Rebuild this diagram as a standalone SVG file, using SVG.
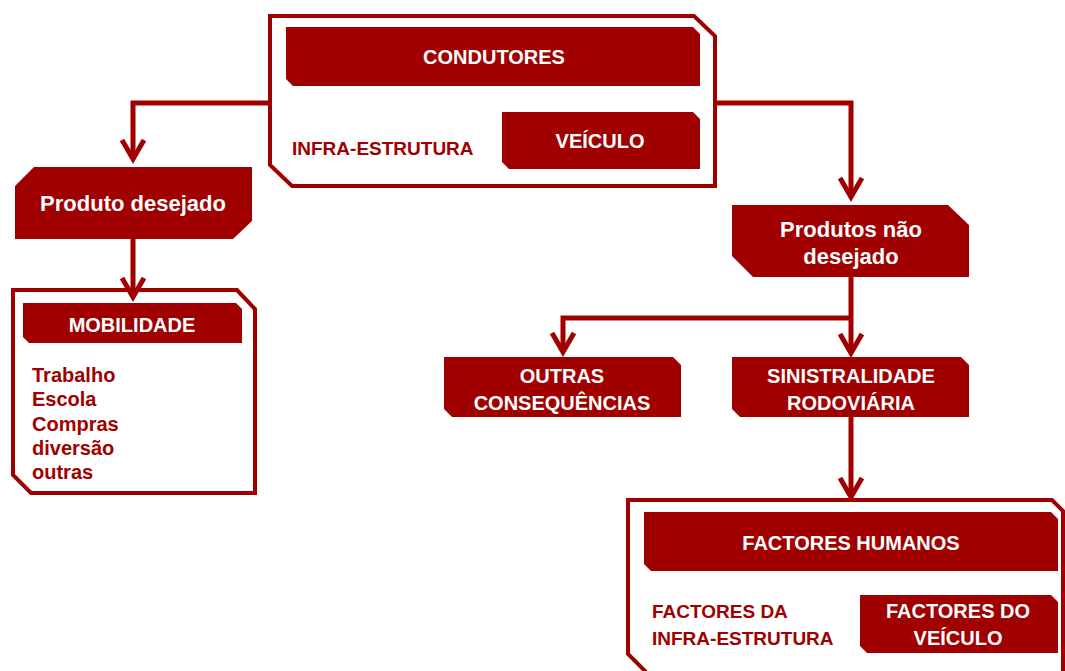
<svg xmlns="http://www.w3.org/2000/svg" width="1065" height="671" viewBox="0 0 1065 671">
  <style>
    .frame { fill: #ffffff; stroke: #A00000; stroke-width: 4; stroke-linejoin: miter; }
    .band { fill: #A00000; stroke: none; }
    .wt { fill: #ffffff; font-family: "Liberation Sans", Arial, sans-serif; font-weight: bold; text-anchor: middle; }
    .rt { fill: #A00000; font-family: "Liberation Sans", Arial, sans-serif; font-weight: bold; }
    .conn { fill: none; stroke: #A00000; stroke-width: 5; stroke-linejoin: miter; stroke-linecap: butt; }
  </style>
  <defs>
    <marker id="chev" markerUnits="userSpaceOnUse" orient="auto" refX="0" refY="0" markerWidth="40" markerHeight="40" viewBox="-30 -20 40 40" overflow="visible">
      <path d="M -19,-11 L 0,0 L -19,11" fill="none" stroke="#A00000" stroke-width="5" stroke-linejoin="miter"/>
    </marker>
  </defs>
  <rect width="1065" height="671" fill="#ffffff"/>

  <g id="node-sistema">
    <polygon class="frame" points="270,16 694,16 715,36 715,186 292,186 270,165"/>
    <g id="node-condutores">
      <polygon class="band" points="286,27 693,27 700,34 700,86 293,86 286,79"/>
      <text class="wt" x="494" y="64" font-size="20">CONDUTORES</text>
    </g>
    <g id="node-infra">
      <text class="rt" x="292" y="155" font-size="19">INFRA-ESTRUTURA</text>
    </g>
    <g id="node-veiculo">
      <polygon class="band" points="502,112 693,112 700,119 700,169 509,169 502,162"/>
      <text class="wt" x="600" y="148" font-size="20">VEÍCULO</text>
    </g>
  </g>

  <g id="node-produto-desejado">
    <polygon class="band" points="34,167 252,167 252,221 233,239 15,239 15,186"/>
    <text class="wt" x="133" y="211" font-size="22">Produto desejado</text>
  </g>

  <g id="node-mobilidade">
    <polygon class="frame" points="13,290 237,290 255,309 255,493 31,493 13,475"/>
    <polygon class="band" points="23,303 236,303 242,309 242,343 29,343 23,337"/>
    <text class="wt" x="132" y="332" font-size="20">MOBILIDADE</text>
    <text class="rt" x="32" y="382" font-size="20">Trabalho</text>
    <text class="rt" x="32" y="406" font-size="20">Escola</text>
    <text class="rt" x="32" y="431" font-size="20">Compras</text>
    <text class="rt" x="32" y="455" font-size="20">diversão</text>
    <text class="rt" x="32" y="479" font-size="20">outras</text>
  </g>

  <g id="node-produtos-nao-desejado">
    <polygon class="band" points="732,205 948,205 969,225 969,277 753,277 732,256"/>
    <text class="wt" x="851" y="237" font-size="22">Produtos não</text>
    <text class="wt" x="851" y="264" font-size="22">desejado</text>
  </g>

  <g id="node-outras">
    <polygon class="band" points="444,357 673,357 681,365 681,417 452,417 444,409"/>
    <text class="wt" x="562" y="383" font-size="20">OUTRAS</text>
    <text class="wt" x="562" y="410" font-size="20">CONSEQUÊNCIAS</text>
  </g>

  <g id="node-sinistralidade">
    <polygon class="band" points="732,357 961,357 969,365 969,417 740,417 732,409"/>
    <text class="wt" x="851" y="383" font-size="20">SINISTRALIDADE</text>
    <text class="wt" x="851" y="410" font-size="20">RODOVIÁRIA</text>
  </g>

  <g id="node-factores">
    <polygon class="frame" points="628,500 1052,500 1063,511 1063,676 650,676 628,654"/>
    <g id="node-factores-humanos">
      <polygon class="band" points="644,512 1051,512 1058,519 1058,571 651,571 644,564"/>
      <text class="wt" x="851" y="550" font-size="20">FACTORES HUMANOS</text>
    </g>
    <g id="node-factores-infra">
      <text class="rt" x="652" y="618" font-size="19">FACTORES DA</text>
      <text class="rt" x="652" y="645" font-size="19">INFRA-ESTRUTURA</text>
    </g>
    <g id="node-factores-veiculo">
      <polygon class="band" points="860,595 1051,595 1058,602 1058,653 867,653 860,646"/>
      <text class="wt" x="958" y="618" font-size="20">FACTORES DO</text>
      <text class="wt" x="958" y="645" font-size="20">VEÍCULO</text>
    </g>
  </g>

  <g id="connectors">
    <path class="conn" d="M 270,103 H 133 V 159" marker-end="url(#chev)"/>
    <path class="conn" d="M 715,103 H 851 V 197" marker-end="url(#chev)"/>
    <path class="conn" d="M 133,239 V 297" marker-end="url(#chev)"/>
    <path class="conn" d="M 851,277 V 353" marker-end="url(#chev)"/>
    <path class="conn" d="M 851,318 H 563 V 352" marker-end="url(#chev)"/>
    <path class="conn" d="M 851,417 V 497" marker-end="url(#chev)"/>
  </g>
</svg>
